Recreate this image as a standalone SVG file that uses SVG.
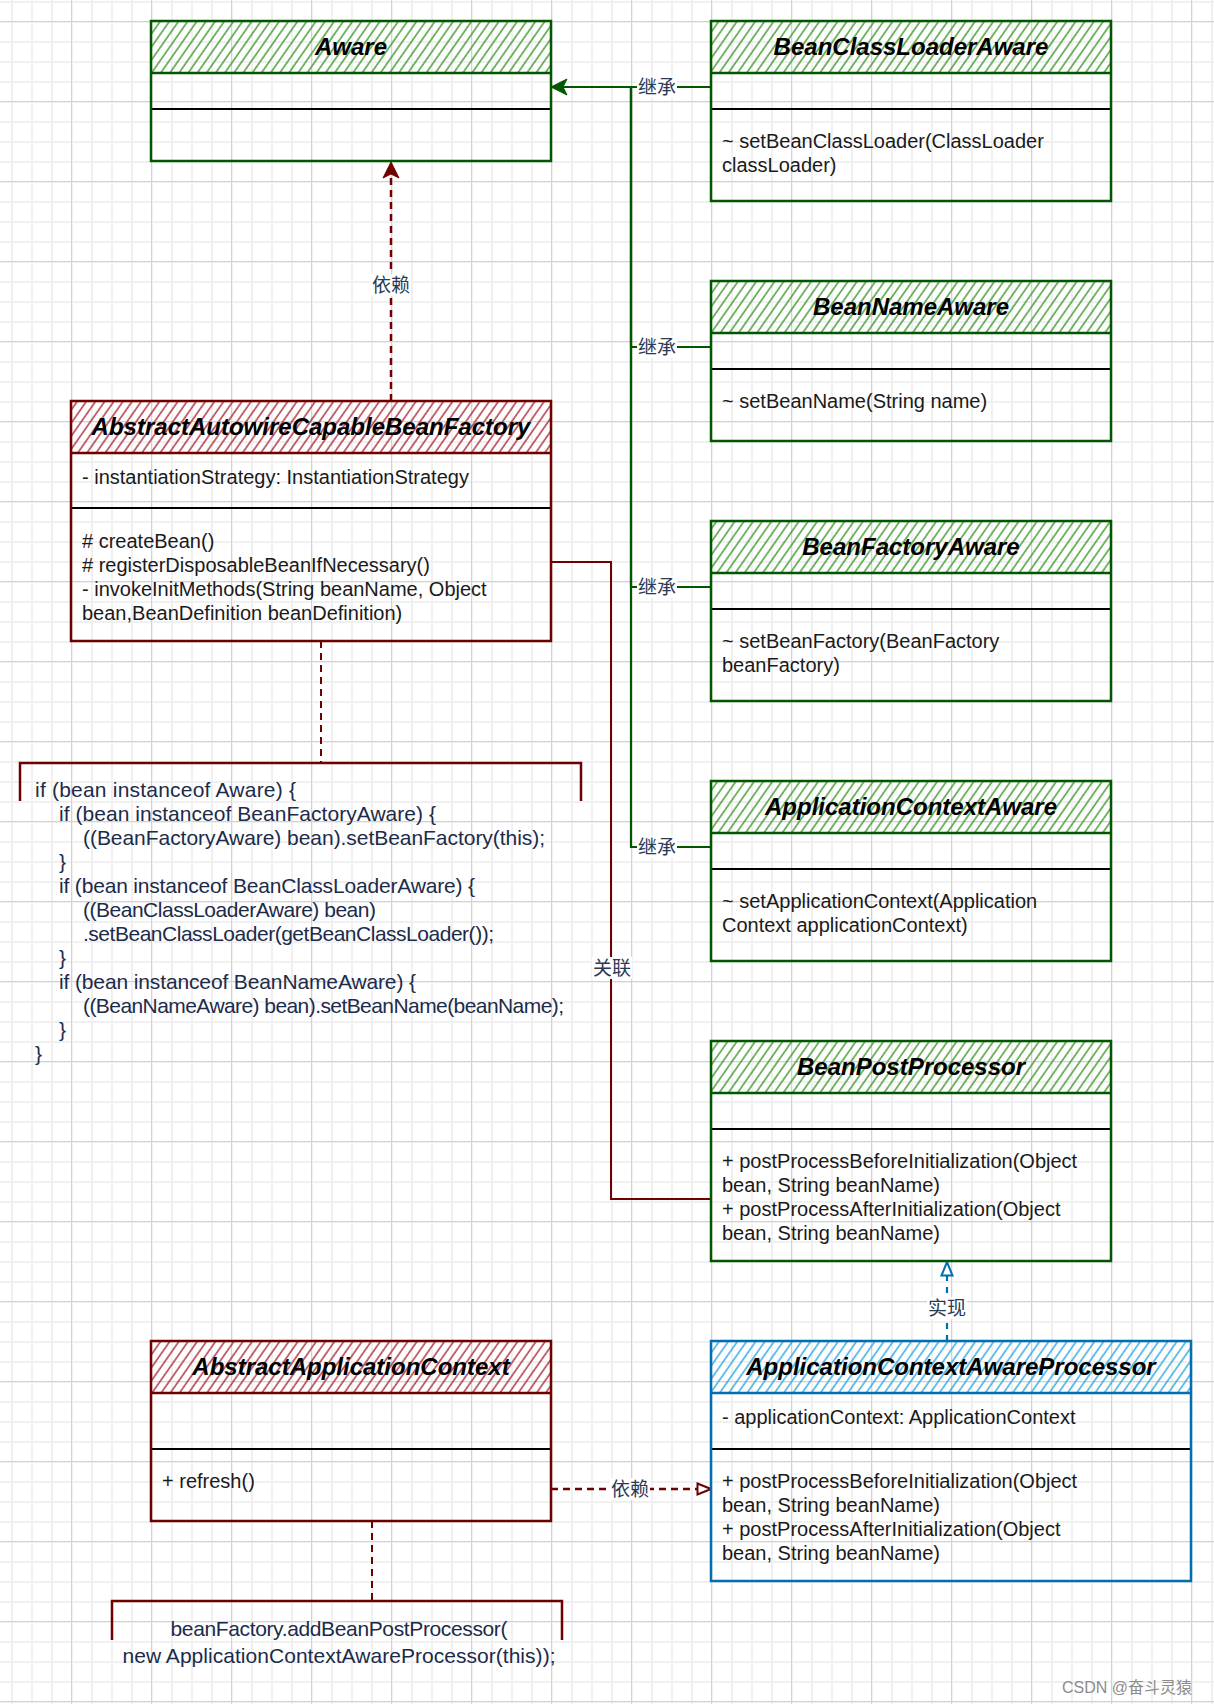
<svg xmlns="http://www.w3.org/2000/svg" width="1214" height="1704" viewBox="0 0 1214 1704">
<defs>
<style>
.hdr{font-family:"Liberation Sans",Arial,sans-serif;font-size:24px;font-weight:bold;font-style:italic;fill:#000;text-anchor:middle}
.txt{font-family:"Liberation Sans",Arial,sans-serif;font-size:20px;fill:#1a1a1a}
.code{font-family:"Liberation Sans",Arial,sans-serif;font-size:21px;fill:#1c2b4a}
.codec{font-family:"Liberation Sans",Arial,sans-serif;font-size:21px;fill:#1c2b4a;text-anchor:middle}
.lbl{font-family:"Noto Sans CJK SC","Noto Sans",sans-serif;font-size:19px;fill:#2a3a55;text-anchor:middle}
.lblbg{fill:#fff}
.gbox{fill:none;stroke:#005700;stroke-width:2.5}
.rbox{fill:none;stroke:#6f0000;stroke-width:2.5}
.bbox{fill:none;stroke:#006eaf;stroke-width:2.5}
.div{stroke:#000;stroke-width:2}
.wm{font-family:"Liberation Sans","Noto Sans CJK SC",sans-serif;font-size:16px;fill:#8c8c8c}
</style>
<pattern id="gridMinor" patternUnits="userSpaceOnUse" x="11" y="1" width="20" height="20">
<path d="M1,0 V20 M0,1 H20" stroke="#f0f0f0" stroke-width="2" fill="none"/>
</pattern>
<pattern id="gridMajor" patternUnits="userSpaceOnUse" x="151" y="21" width="80" height="80">
<path d="M0.5,0 V80 M0,0.5 H80" stroke="#d2d2d2" stroke-width="1" fill="none"/>
</pattern>
<pattern id="hatchG" patternUnits="userSpaceOnUse" width="7.5" height="20" patternTransform="rotate(35)">
<line x1="1" y1="0" x2="1" y2="20" stroke="#3f9a2c" stroke-width="1.4"/>
</pattern>
<pattern id="hatchR" patternUnits="userSpaceOnUse" width="7.5" height="20" patternTransform="rotate(35)">
<line x1="1" y1="0" x2="1" y2="20" stroke="#b02a3c" stroke-width="1.4"/>
</pattern>
<pattern id="hatchB" patternUnits="userSpaceOnUse" width="7.5" height="20" patternTransform="rotate(35)">
<line x1="1" y1="0" x2="1" y2="20" stroke="#2aa8e6" stroke-width="1.4"/>
</pattern>
<marker id="arrG" viewBox="0 0 18 18" refX="17" refY="9" markerWidth="18" markerHeight="18" markerUnits="userSpaceOnUse" orient="auto">
<path d="M1,1 L17,9 L1,17 L5,9 Z" fill="#005700" stroke="#005700" stroke-width="1"/>
</marker>
<marker id="arrR" viewBox="0 0 18 18" refX="17" refY="9" markerWidth="18" markerHeight="18" markerUnits="userSpaceOnUse" orient="auto">
<path d="M1,1 L17,9 L1,17 L5,9 Z" fill="#6f0000" stroke="#6f0000" stroke-width="1"/>
</marker>
<marker id="triR" viewBox="0 0 16 14" refX="15" refY="7" markerWidth="16" markerHeight="14" markerUnits="userSpaceOnUse" orient="auto">
<path d="M1.5,1.5 L15,7 L1.5,12.5 Z" fill="#fff" stroke="#6f0000" stroke-width="2"/>
</marker>
<marker id="triB" viewBox="0 0 16 14" refX="15" refY="7" markerWidth="16" markerHeight="14" markerUnits="userSpaceOnUse" orient="auto">
<path d="M1.5,1.5 L15,7 L1.5,12.5 Z" fill="#fff" stroke="#006eaf" stroke-width="2"/>
</marker>
</defs>

<rect x="0" y="0" width="1214" height="1704" fill="#fff"/>
<rect x="0" y="0" width="1214" height="1704" fill="url(#gridMinor)"/>
<rect x="0" y="0" width="1214" height="1704" fill="url(#gridMajor)"/>

<g id="connectors">
  <g fill="none" stroke="#005700" stroke-width="2.2">
    <path d="M711,347 H631 V87"/>
    <path d="M711,587 H631 V87"/>
    <path d="M711,847 H631 V87"/>
    <path d="M711,87 H551" marker-end="url(#arrG)"/>
  </g>
  <rect class="lblbg" x="637" y="76" width="40" height="22"/>
  <text class="lbl" x="657" y="94">继承</text>
  <rect class="lblbg" x="637" y="336" width="40" height="22"/>
  <text class="lbl" x="657" y="354">继承</text>
  <rect class="lblbg" x="637" y="576" width="40" height="22"/>
  <text class="lbl" x="657" y="594">继承</text>
  <rect class="lblbg" x="637" y="836" width="40" height="22"/>
  <text class="lbl" x="657" y="854">继承</text>

  <path d="M391,401 V162" fill="none" stroke="#6f0000" stroke-width="2.5" stroke-dasharray="7 5" marker-end="url(#arrR)"/>
  <rect class="lblbg" x="371" y="274" width="40" height="22"/>
  <text class="lbl" x="391" y="292">依赖</text>

  <path d="M551,562 H611 V1199 H711" fill="none" stroke="#6f0000" stroke-width="2"/>
  <rect class="lblbg" x="592" y="957" width="40" height="22"/>
  <text class="lbl" x="612" y="975">关联</text>

  <path d="M321,641 V763" fill="none" stroke="#6f0000" stroke-width="2" stroke-dasharray="7 5"/>
  <path d="M372,1521 V1601" fill="none" stroke="#6f0000" stroke-width="2" stroke-dasharray="7 5"/>

  <path d="M551,1489 H711" fill="none" stroke="#6f0000" stroke-width="2.5" stroke-dasharray="7 5" marker-end="url(#triR)"/>
  <rect class="lblbg" x="610" y="1478" width="40" height="22"/>
  <text class="lbl" x="630" y="1496">依赖</text>

  <path d="M947,1341 V1262" fill="none" stroke="#006eaf" stroke-width="2.2" stroke-dasharray="6 6" marker-end="url(#triB)"/>
  <rect class="lblbg" x="927" y="1297" width="40" height="22"/>
  <text class="lbl" x="947" y="1315">实现</text>
</g>

<g id="node-Aware">
  <rect x="151" y="21" width="400" height="52" fill="url(#hatchG)"/>
  <line x1="151" y1="73" x2="551" y2="73" stroke="#005700" stroke-width="2.5"/>
  <line class="div" x1="151" y1="109" x2="551" y2="109"/>
  <rect class="gbox" x="151" y="21" width="400" height="140"/>
  <text class="hdr" x="351" y="55">Aware</text>
</g>

<g id="node-BeanClassLoaderAware">
  <rect x="711" y="21" width="400" height="52" fill="url(#hatchG)"/>
  <line x1="711" y1="73" x2="1111" y2="73" stroke="#005700" stroke-width="2.5"/>
  <line class="div" x1="711" y1="109" x2="1111" y2="109"/>
  <rect class="gbox" x="711" y="21" width="400" height="180"/>
  <text class="hdr" x="911" y="55">BeanClassLoaderAware</text>
  <text class="txt" x="722" y="148">~ setBeanClassLoader(ClassLoader</text>
  <text class="txt" x="722" y="172">classLoader)</text>
</g>

<g id="node-BeanNameAware">
  <rect x="711" y="281" width="400" height="52" fill="url(#hatchG)"/>
  <line x1="711" y1="333" x2="1111" y2="333" stroke="#005700" stroke-width="2.5"/>
  <line class="div" x1="711" y1="369" x2="1111" y2="369"/>
  <rect class="gbox" x="711" y="281" width="400" height="160"/>
  <text class="hdr" x="911" y="315">BeanNameAware</text>
  <text class="txt" x="722" y="408">~ setBeanName(String name)</text>
</g>

<g id="node-BeanFactoryAware">
  <rect x="711" y="521" width="400" height="52" fill="url(#hatchG)"/>
  <line x1="711" y1="573" x2="1111" y2="573" stroke="#005700" stroke-width="2.5"/>
  <line class="div" x1="711" y1="609" x2="1111" y2="609"/>
  <rect class="gbox" x="711" y="521" width="400" height="180"/>
  <text class="hdr" x="911" y="555">BeanFactoryAware</text>
  <text class="txt" x="722" y="648">~ setBeanFactory(BeanFactory</text>
  <text class="txt" x="722" y="672">beanFactory)</text>
</g>

<g id="node-ApplicationContextAware">
  <rect x="711" y="781" width="400" height="52" fill="url(#hatchG)"/>
  <line x1="711" y1="833" x2="1111" y2="833" stroke="#005700" stroke-width="2.5"/>
  <line class="div" x1="711" y1="869" x2="1111" y2="869"/>
  <rect class="gbox" x="711" y="781" width="400" height="180"/>
  <text class="hdr" x="911" y="815">ApplicationContextAware</text>
  <text class="txt" x="722" y="908">~ setApplicationContext(Application</text>
  <text class="txt" x="722" y="932">Context applicationContext)</text>
</g>

<g id="node-BeanPostProcessor">
  <rect x="711" y="1041" width="400" height="52" fill="url(#hatchG)"/>
  <line x1="711" y1="1093" x2="1111" y2="1093" stroke="#005700" stroke-width="2.5"/>
  <line class="div" x1="711" y1="1129" x2="1111" y2="1129"/>
  <rect class="gbox" x="711" y="1041" width="400" height="220"/>
  <text class="hdr" x="911" y="1075">BeanPostProcessor</text>
  <text class="txt" x="722" y="1168">+ postProcessBeforeInitialization(Object</text>
  <text class="txt" x="722" y="1192">bean, String beanName)</text>
  <text class="txt" x="722" y="1216">+ postProcessAfterInitialization(Object</text>
  <text class="txt" x="722" y="1240">bean, String beanName)</text>
</g>

<g id="node-AbstractAutowireCapableBeanFactory">
  <rect x="71" y="401" width="480" height="52" fill="url(#hatchR)"/>
  <line x1="71" y1="453" x2="551" y2="453" stroke="#6f0000" stroke-width="2.5"/>
  <line class="div" x1="71" y1="508" x2="551" y2="508"/>
  <rect class="rbox" x="71" y="401" width="480" height="240"/>
  <text class="hdr" x="311" y="435">AbstractAutowireCapableBeanFactory</text>
  <text class="txt" x="82" y="484">- instantiationStrategy: InstantiationStrategy</text>
  <text class="txt" x="82" y="548">
    <tspan x="82" y="548"># createBean()</tspan>
    <tspan x="82" y="572"># registerDisposableBeanIfNecessary()</tspan>
    <tspan x="82" y="596">- invokeInitMethods(String beanName, Object</tspan>
    <tspan x="82" y="620">bean,BeanDefinition beanDefinition)</tspan>
  </text>
</g>

<g id="note-aware-code">
  <path d="M20,801 V763 H581 V801" fill="none" stroke="#6f0000" stroke-width="2.5"/>
  <text class="code" x="35" y="797" textLength="261" lengthAdjust="spacing">if (bean instanceof Aware) {</text>
  <text class="code" x="59" y="821" textLength="377" lengthAdjust="spacing">if (bean instanceof BeanFactoryAware) {</text>
  <text class="code" x="83" y="845" textLength="462" lengthAdjust="spacing">((BeanFactoryAware) bean).setBeanFactory(this);</text>
  <text class="code" x="59" y="869">}</text>
  <text class="code" x="59" y="893" textLength="416" lengthAdjust="spacing">if (bean instanceof BeanClassLoaderAware) {</text>
  <text class="code" x="83" y="917" textLength="293" lengthAdjust="spacing">((BeanClassLoaderAware) bean)</text>
  <text class="code" x="83" y="941" textLength="411" lengthAdjust="spacing">.setBeanClassLoader(getBeanClassLoader());</text>
  <text class="code" x="59" y="965">}</text>
  <text class="code" x="59" y="989" textLength="357" lengthAdjust="spacing">if (bean instanceof BeanNameAware) {</text>
  <text class="code" x="83" y="1013" textLength="481" lengthAdjust="spacing">((BeanNameAware) bean).setBeanName(beanName);</text>
  <text class="code" x="59" y="1037">}</text>
  <text class="code" x="35" y="1061">}</text>
</g>

<g id="node-AbstractApplicationContext">
  <rect x="151" y="1341" width="400" height="52" fill="url(#hatchR)"/>
  <line x1="151" y1="1393" x2="551" y2="1393" stroke="#6f0000" stroke-width="2.5"/>
  <line class="div" x1="151" y1="1449" x2="551" y2="1449"/>
  <rect class="rbox" x="151" y="1341" width="400" height="180"/>
  <text class="hdr" x="351" y="1375">AbstractApplicationContext</text>
  <text class="txt" x="162" y="1488">+ refresh()</text>
</g>

<g id="node-ApplicationContextAwareProcessor">
  <rect x="711" y="1341" width="480" height="52" fill="url(#hatchB)"/>
  <line x1="711" y1="1393" x2="1191" y2="1393" stroke="#006eaf" stroke-width="2.5"/>
  <line class="div" x1="711" y1="1449" x2="1191" y2="1449"/>
  <rect class="bbox" x="711" y="1341" width="480" height="240"/>
  <text class="hdr" x="951" y="1375">ApplicationContextAwareProcessor</text>
  <text class="txt" x="722" y="1424">- applicationContext: ApplicationContext</text>
  <text class="txt" x="722" y="1488">+ postProcessBeforeInitialization(Object</text>
  <text class="txt" x="722" y="1512">bean, String beanName)</text>
  <text class="txt" x="722" y="1536">+ postProcessAfterInitialization(Object</text>
  <text class="txt" x="722" y="1560">bean, String beanName)</text>
</g>

<g id="note-refresh-code">
  <path d="M112,1640 V1601 H562 V1640" fill="none" stroke="#6f0000" stroke-width="2.5"/>
  <text class="codec" x="339" y="1636" textLength="337" lengthAdjust="spacing">beanFactory.addBeanPostProcessor(</text>
  <text class="codec" x="339" y="1663" textLength="433" lengthAdjust="spacing">new ApplicationContextAwareProcessor(this));</text>
</g>

<text class="wm" x="1062" y="1693">CSDN @奋斗灵猿</text>
</svg>
